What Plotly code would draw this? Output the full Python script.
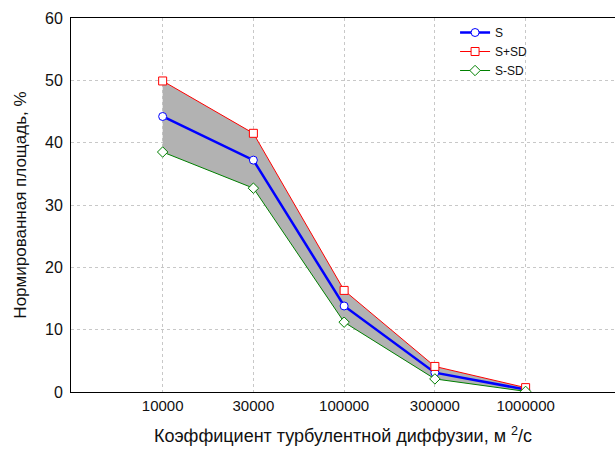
import plotly.graph_objects as go

# Turbulent diffusion coefficients (categorical axis) and normalised area values, %
categories = ["10000", "30000", "100000", "300000", "1000000"]
s_mean = [44.2, 37.2, 13.8, 3.1, 0.4]
s_plus_sd = [49.9, 41.5, 16.3, 4.1, 0.7]
s_minus_sd = [38.5, 32.7, 11.2, 2.1, 0.1]

y_ticks = [0, 10, 20, 30, 40, 50, 60]

font_family = "Liberation Sans, Arial, sans-serif"

fig = go.Figure()

# Shaded band between S+SD and S-SD
fig.add_trace(go.Scatter(
    x=categories + categories[::-1],
    y=s_plus_sd + s_minus_sd[::-1],
    fill="toself",
    fillcolor="rgb(178,178,178)",
    line=dict(width=0),
    mode="lines",
    hoverinfo="skip",
    showlegend=False,
))

fig.add_trace(go.Scatter(
    x=categories, y=s_mean, name="S", mode="lines+markers",
    line=dict(color="#0000ff", width=2.5),
    marker=dict(symbol="circle", size=8, color="white",
                line=dict(color="#0000ff", width=1)),
))
fig.add_trace(go.Scatter(
    x=categories, y=s_plus_sd, name="S+SD", mode="lines+markers",
    line=dict(color="#ff0000", width=1),
    marker=dict(symbol="square", size=8, color="white",
                line=dict(color="#ff0000", width=1)),
))
fig.add_trace(go.Scatter(
    x=categories, y=s_minus_sd, name="S-SD", mode="lines+markers",
    line=dict(color="#008000", width=1),
    marker=dict(symbol="diamond", size=8, color="white",
                line=dict(color="#008000", width=1)),
))

fig.update_layout(
    width=615, height=450,
    margin=dict(l=71, r=0, t=18, b=58),
    paper_bgcolor="white",
    plot_bgcolor="white",
    font=dict(family=font_family, color="#111111"),
    legend=dict(
        x=0.706, y=1.0, xanchor="left", yanchor="top",
        bgcolor="rgba(255,255,255,0)",
        font=dict(size=12, family=font_family),
        tracegroupgap=0, itemwidth=30,
    ),
    xaxis=dict(
        type="category",
        range=[-1.01, 4.985],
        showline=True, linecolor="black", linewidth=1, mirror=True,
        showgrid=True, gridcolor="#c8c8c8", griddash="dot", gridwidth=1,
        ticks="", tickfont=dict(size=15),
        title=dict(text="Коэффициент турбулентной диффузии, м <sup>2</sup>/с",
                   font=dict(size=18), standoff=16),
        zeroline=False,
    ),
    yaxis=dict(
        range=[0, 60],
        tickvals=y_ticks,
        showline=True, linecolor="black", linewidth=1,
        showgrid=True, gridcolor="#c8c8c8", griddash="dot", gridwidth=1,
        ticks="", tickfont=dict(size=16), ticklabelstandoff=4,
        title=dict(text="Нормированная площадь, %", font=dict(size=17), standoff=14),
        zeroline=False,
    ),
)

fig.write_html("out.html")
